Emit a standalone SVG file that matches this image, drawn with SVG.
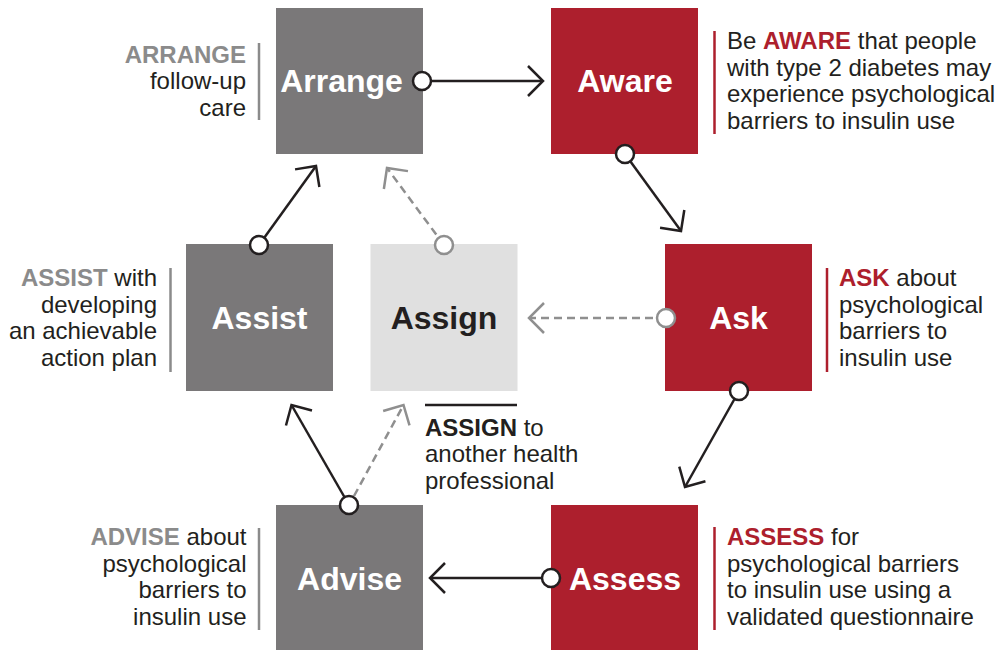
<svg xmlns="http://www.w3.org/2000/svg" width="1000" height="650" viewBox="0 0 1000 650">
<style>
text{font-family:"Liberation Sans",Arial,Helvetica,sans-serif}
.red{fill:#AD1F2D}
.gry{fill:#7A7879}
.lgt{fill:#E0E0E0}
.nt{font-size:32px;font-weight:bold;fill:#FFFFFF;text-anchor:middle}
.ntd{font-size:32px;font-weight:bold;fill:#231F20;text-anchor:middle}
.lb{font-size:24px;fill:#231F20}
.bR{font-weight:bold;fill:#AD1F2D}
.bG{font-weight:bold;fill:#8B8B8B}
.bK{font-weight:bold;fill:#231F20}
.barR{stroke:#AD1F2D;stroke-width:2.5}
.barG{stroke:#8B8B8B;stroke-width:2.5}
.barK{stroke:#231F20;stroke-width:2.5}
.cd{stroke:#231F20;stroke-width:2.5;fill:none;marker-end:url(#ad)}
.cg{stroke:#8F8F8F;stroke-width:2.5;fill:none;stroke-dasharray:8 5;marker-end:url(#ag)}
.pd{fill:#FFFFFF;stroke:#231F20;stroke-width:2.5}
.pg{fill:#FFFFFF;stroke:#8F8F8F;stroke-width:2.5}
</style>
<defs>
<marker id="ad" markerUnits="userSpaceOnUse" viewBox="-17 -17 20 34" refX="0" refY="0" markerWidth="20" markerHeight="34" orient="auto" overflow="visible">
<path d="M-15,-15 L0,0 L-15,15" fill="none" stroke="#231F20" stroke-width="2.5"/>
</marker>
<marker id="ag" markerUnits="userSpaceOnUse" viewBox="-17 -17 20 34" refX="0" refY="0" markerWidth="20" markerHeight="34" orient="auto" overflow="visible">
<path d="M-15,-15 L0,0 L-15,15" fill="none" stroke="#8F8F8F" stroke-width="2.5"/>
</marker>
</defs>
<rect width="1000" height="650" fill="#FFFFFF"/>

<g id="arrange">
<rect class="gry" x="276" y="8" width="147" height="146"/>
<text class="nt" x="341.5" y="92">Arrange</text>
<line class="barG" x1="259" y1="43" x2="259" y2="120"/>
<text class="lb" text-anchor="end"><tspan x="246" y="62.5" class="bG">ARRANGE</tspan><tspan x="246" y="89">follow-up</tspan><tspan x="246" y="115.5">care</tspan></text>
</g>

<g id="aware">
<rect class="red" x="551" y="8" width="147" height="146"/>
<text class="nt" x="625" y="92">Aware</text>
<line class="barR" x1="714.5" y1="31" x2="714.5" y2="134"/>
<text class="lb"><tspan x="727" y="49.3">Be <tspan class="bR">AWARE</tspan> that people</tspan><tspan x="727" y="75.8">with type 2 diabetes may</tspan><tspan x="727" y="102.3">experience psychological</tspan><tspan x="727" y="128.8">barriers to insulin use</tspan></text>
</g>

<g id="ask">
<rect class="red" x="665" y="244" width="147" height="147"/>
<text class="nt" x="738.5" y="329">Ask</text>
<line class="barR" x1="827" y1="268" x2="827" y2="372"/>
<text class="lb"><tspan x="839" y="286"><tspan class="bR">ASK</tspan> about</tspan><tspan x="839" y="312.7">psychological</tspan><tspan x="839" y="339.3">barriers to</tspan><tspan x="839" y="366">insulin use</tspan></text>
</g>

<g id="assess">
<rect class="red" x="551" y="505" width="147" height="146"/>
<text class="nt" x="625" y="589.5">Assess</text>
<line class="barR" x1="714.5" y1="527" x2="714.5" y2="630"/>
<text class="lb"><tspan x="727" y="545"><tspan class="bR">ASSESS</tspan> for</tspan><tspan x="727" y="571.7">psychological barriers</tspan><tspan x="727" y="598.3">to insulin use using a</tspan><tspan x="727" y="625">validated questionnaire</tspan></text>
</g>

<g id="advise">
<rect class="gry" x="276" y="505" width="147" height="146"/>
<text class="nt" x="349.5" y="589.5">Advise</text>
<line class="barG" x1="259" y1="528" x2="259" y2="630"/>
<text class="lb" text-anchor="end"><tspan x="246.5" y="545"><tspan class="bG">ADVISE</tspan> about</tspan><tspan x="246.5" y="571.7">psychological</tspan><tspan x="246.5" y="598.3">barriers to</tspan><tspan x="246.5" y="625">insulin use</tspan></text>
</g>

<g id="assist">
<rect class="gry" x="186" y="244" width="147" height="147"/>
<text class="nt" x="259.5" y="329">Assist</text>
<line class="barG" x1="170.5" y1="268" x2="170.5" y2="372"/>
<text class="lb" text-anchor="end"><tspan x="157" y="286"><tspan class="bG">ASSIST</tspan> with</tspan><tspan x="157" y="312.7">developing</tspan><tspan x="157" y="339.3">an achievable</tspan><tspan x="157" y="366">action plan</tspan></text>
</g>

<g id="assign">
<rect class="lgt" x="370.5" y="244" width="147" height="147"/>
<text class="ntd" x="444" y="329">Assign</text>
<line class="barK" x1="425" y1="405" x2="517" y2="405"/>
<text class="lb"><tspan x="425" y="435.5"><tspan class="bK">ASSIGN</tspan> to</tspan><tspan x="425" y="462">another health</tspan><tspan x="425" y="488.5">professional</tspan></text>
</g>

<g id="connectors">
<line class="cd" x1="422" y1="81" x2="543" y2="81"/>
<line class="cd" x1="625" y1="154" x2="681" y2="231"/>
<line class="cd" x1="739" y1="391" x2="685" y2="487"/>
<line class="cd" x1="551" y1="578" x2="430" y2="578"/>
<line class="cd" x1="349" y1="505" x2="291.5" y2="405"/>
<line class="cd" x1="259" y1="245" x2="316" y2="166"/>
<line class="cg" x1="666" y1="318" x2="529" y2="318"/>
<line class="cg" x1="354" y1="496" x2="403.5" y2="405"/>
<line class="cg" x1="444" y1="245" x2="387" y2="168"/>
<circle class="pd" cx="422" cy="81" r="9"/>
<circle class="pd" cx="625" cy="154" r="9"/>
<circle class="pd" cx="739" cy="391" r="9"/>
<circle class="pd" cx="551" cy="578" r="9"/>
<circle class="pd" cx="349" cy="505" r="9"/>
<circle class="pd" cx="259" cy="245" r="9"/>
<circle class="pg" cx="666" cy="318" r="9"/>
<circle class="pg" cx="444" cy="245" r="9"/>
</g>
</svg>
